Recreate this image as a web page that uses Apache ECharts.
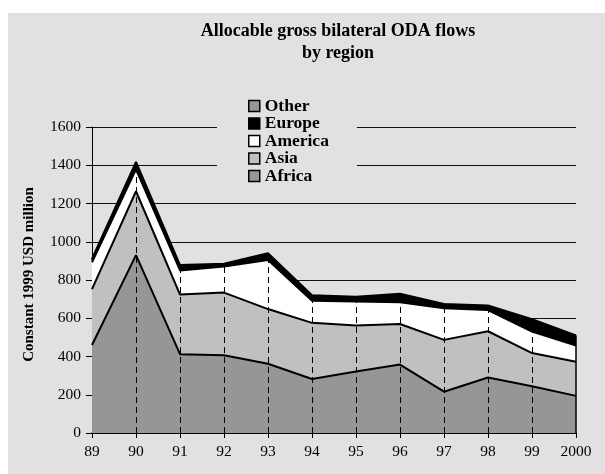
<!DOCTYPE html>
<html>
<head>
<meta charset="utf-8">
<script src="https://cdn.jsdelivr.net/npm/echarts@6/dist/echarts.min.js"></script>
<style>
  html, body { margin: 0; padding: 0; background: #fff; }
  #chart { width: 605px; height: 474px; }
</style>
</head>
<body>
<div id="chart"></div>
<script>
const years = ["89", "90", "91", "92", "93", "94", "95", "96", "97", "98", "99", "2000"];
const yTicks = [0, 200, 400, 600, 800, 1000, 1200, 1400, 1600];

// constant 1999 USD million (stacked bottom to top)
const africa = [460, 930, 412, 406, 362, 282, 322, 358, 216, 290, 244, 194];
const asia = [292, 334, 312, 328, 286, 294, 240, 212, 271, 242, 174, 178];
const america = [141, 115, 126, 136, 257, 116, 126, 114, 165, 111, 112, 85];
const europe = [12, 28, 20, 10, 27, 23, 20, 36, 18, 19, 60, 48];
const other = [5, 10, 8, 5, 8, 5, 5, 8, 5, 5, 5, 5];

const legendOrder = ["Other", "Europe", "America", "Asia", "Africa"];

const FONT = "Liberation Serif";
const BG = "#e1e1e1";

const stack = [
  { name: "Africa", data: africa, fill: "#969696" },
  { name: "Asia", data: asia, fill: "#c0c0c0" },
  { name: "America", data: america, fill: "#ffffff" },
  { name: "Europe", data: europe, fill: "#000000" },
  { name: "Other", data: other, fill: "#969696" },
];

const totals = years.map((_, i) =>
  stack.reduce((sum, s) => sum + s.data[i], 0),
);

// dashed drop lines from 0 up to the stack top, solid at the last year.
// category coords go by index, the year strings would be filtered out
const dropLines = years.slice(1).map((_, k) => {
  const i = k + 1;
  const last = i === years.length - 1;
  return [
    {
      coord: [i, 0],
      lineStyle: last
        ? { type: "solid", width: 1.5, color: "#000" }
        : { type: [6, 4], width: 1, color: "#000" },
    },
    { coord: [i, totals[i]] },
  ];
});

const chart = echarts.init(document.getElementById("chart"), null, {
  renderer: "canvas",
});

chart.setOption({
  backgroundColor: "#fff",
  animation: false,
  graphic: [
    {
      type: "rect",
      z: -10,
      silent: true,
      shape: { x: 8, y: 13, width: 597, height: 461 },
      style: { fill: BG },
    },
  ],
  title: {
    text: "Allocable gross bilateral ODA flows\nby region",
    left: 338,
    top: 21,
    padding: 0,
    textAlign: "center",
    textStyle: {
      fontFamily: FONT,
      fontWeight: "bold",
      fontSize: 18,
      lineHeight: 21.5,
      color: "#000",
    },
  },
  legend: {
    data: legendOrder,
    orient: "vertical",
    left: 217,
    top: 93,
    padding: [4, 28, 6, 31],
    backgroundColor: BG,
    icon: "rect",
    itemWidth: 11,
    itemHeight: 11,
    itemGap: -0.5,
    itemStyle: { borderColor: "#000", borderWidth: 1.5 },
    textStyle: {
      fontFamily: FONT,
      fontWeight: "bold",
      fontSize: 17.5,
      lineHeight: 17,
      color: "#000",
    },
    z: 20,
  },
  grid: {
    left: 92,
    right: 29,
    top: 127,
    bottom: 41,
    containLabel: false,
  },
  xAxis: {
    type: "category",
    data: years,
    boundaryGap: false,
    axisLine: { lineStyle: { color: "#000", width: 1.5 } },
    axisTick: { alignWithLabel: true, length: 5, lineStyle: { color: "#000" } },
    axisLabel: {
      fontFamily: FONT,
      fontSize: 15.5,
      color: "#000",
      margin: 11,
    },
    splitLine: { show: false },
  },
  yAxis: {
    type: "value",
    min: yTicks[0],
    max: yTicks[yTicks.length - 1],
    interval: 200,
    name: "Constant 1999 USD million",
    nameLocation: "middle",
    nameGap: 55,
    nameTextStyle: {
      fontFamily: FONT,
      fontWeight: "bold",
      fontSize: 15,
      color: "#000",
      padding: [0, 0, 0, 11],
    },
    axisLine: { show: true, lineStyle: { color: "#000", width: 1 } },
    axisTick: { show: true, length: 6, lineStyle: { color: "#000" } },
    axisLabel: {
      fontFamily: FONT,
      fontSize: 15.5,
      color: "#000",
      margin: 11,
      formatter: (v) => String(v),
    },
    splitLine: { show: true, lineStyle: { color: "#111", width: 1 } },
  },
  series: [
    ...stack.map((s, k) => ({
      name: s.name,
      type: "line",
      stack: "total",
      data: s.data,
      z: 8 - k,
      symbol: "none",
      showSymbol: false,
      color: s.fill,
      itemStyle: { color: s.fill },
      lineStyle: { color: "#000", width: 2 },
      areaStyle: { color: s.fill, opacity: 1 },
    })),
    {
      name: "drop",
      type: "line",
      data: totals,
      z: 9,
      symbol: "none",
      silent: true,
      lineStyle: { color: "transparent", width: 1 },
      markLine: {
        z: 20,
        silent: true,
        symbol: "none",
        animation: false,
        label: { show: false },
        lineStyle: { type: [6, 4], width: 1, color: "#000", opacity: 1 },
        data: dropLines,
      },
    },
  ],
});
</script>
</body>
</html>
